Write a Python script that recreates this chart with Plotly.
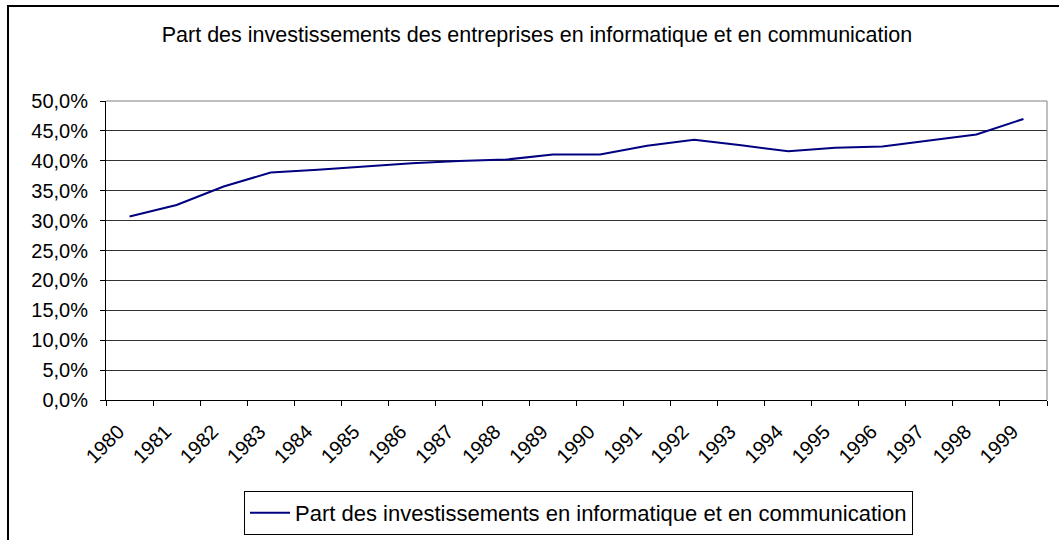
import plotly.graph_objects as go

years = [str(y) for y in range(1980, 2000)]
share = [30.7, 32.6, 35.7, 38.05, 38.5, 39.0, 39.6, 39.95, 40.2, 41.05,
         41.05, 42.5, 43.5, 42.6, 41.6, 42.2, 42.4, 43.4, 44.4, 47.0]
share_frac = [v / 100 for v in share]
y_ticks = [i * 0.05 for i in range(11)]
y_tick_text = [f"{i*5},0%" for i in range(11)]

title_text = "Part des investissements des entreprises en informatique et en communication"
series_name = "Part des investissements en informatique et en communication"

FONT = "Liberation Sans, Arial, sans-serif"
FS_TITLE = 21.5
FS_LEGEND = 22
FS_TICK = 20

fig = go.Figure()
fig.add_trace(go.Scatter(
    x=years, y=share_frac, mode="lines", name=series_name,
    line=dict(color="#000080", width=2),
))

L, R, T, B = 106, 12, 101, 140
W, H = 1059, 540
pw = W - L - R
ph = H - T - B

def px_x(p):
    return (p - L) / pw

def px_y(p):
    return (H - B - p) / ph

fig.update_layout(
    width=W, height=H,
    margin=dict(l=L, r=R, t=T, b=B, autoexpand=False),
    paper_bgcolor="white", plot_bgcolor="white",
    font=dict(family=FONT, size=FS_TICK, color="black"),
    title=dict(text=title_text, x=537 / W, xref="container", xanchor="center",
               y=1 - 34 / H, yref="container", yanchor="middle",
               font=dict(family=FONT, size=FS_TITLE, color="black")),
    showlegend=True,
    legend=dict(orientation="h", x=px_x(578.5), xanchor="center", y=px_y(513), yanchor="middle",
                bordercolor="black", borderwidth=1, bgcolor="white", itemwidth=40,
                font=dict(family=FONT, size=FS_LEGEND, color="black")),
    xaxis=dict(type="category", range=[-0.5, len(years) - 0.5], automargin=False,
               showgrid=False, showline=True, linecolor="black", linewidth=1,
               ticks="outside", ticklen=5, tickcolor="black", tickson="boundaries",
               tickangle=-45, ticklabelshift=-11, ticklabelstandoff=11,
               tickfont=dict(family=FONT, size=FS_TICK, color="black"),
               zeroline=False),
    yaxis=dict(range=[0, 0.5], tickvals=y_ticks, ticktext=y_tick_text, automargin=False,
               showgrid=True, gridcolor="#333333", gridwidth=1,
               showline=True, linecolor="black", linewidth=1,
               ticks="outside", ticklen=5, tickcolor="black", ticklabelstandoff=8,
               tickfont=dict(family=FONT, size=FS_TICK, color="black"),
               zeroline=False),
)

# plot area top/right border (gray)
fig.add_shape(type="line", xref="paper", yref="paper", x0=0, x1=1, y0=1, y1=1,
              line=dict(color="#808080", width=1))
fig.add_shape(type="line", xref="paper", yref="paper", x0=1, x1=1, y0=0, y1=1,
              line=dict(color="#808080", width=1))
# outer chart border (right and bottom edges lie outside the picture)
fig.add_shape(type="rect", xref="paper", yref="paper",
              x0=px_x(8), x1=px_x(1070), y0=px_y(560), y1=px_y(6),
              line=dict(color="black", width=2), fillcolor="rgba(0,0,0,0)", layer="below")

fig.write_html("out.html", config={"displayModeBar": False},
               post_script="document.body.style.margin='0';document.body.style.overflow='hidden';")
